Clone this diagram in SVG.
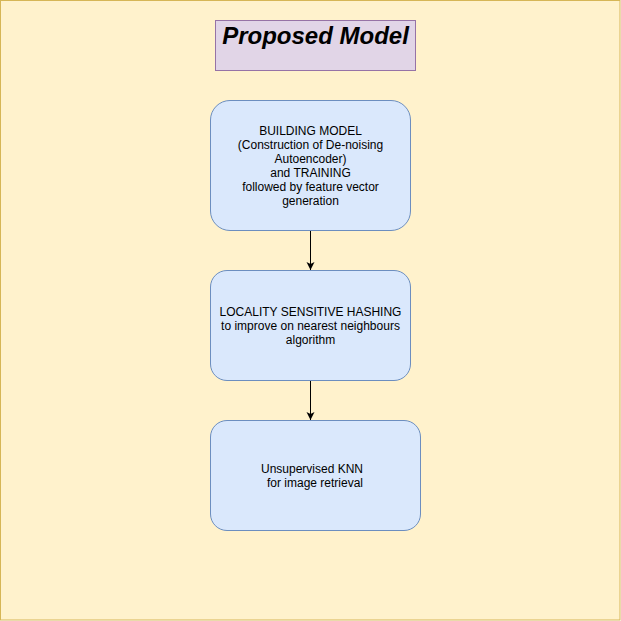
<svg xmlns="http://www.w3.org/2000/svg" width="621" height="621" viewBox="0 0 621 621">
<style>
.node{fill:#dae8fc;stroke:#6c8ebf;stroke-width:1}
.t{font-family:"Liberation Sans",Arial,sans-serif;font-size:12px;fill:#000;text-anchor:middle}
.edge{stroke:#000;stroke-width:1;fill:none}
</style>
<defs>
<marker id="arr" markerWidth="10" markerHeight="10" refX="8" refY="4" orient="auto" markerUnits="userSpaceOnUse" viewBox="0 0 10 8">
<path d="M0,0 L8,4 L0,8 L2,4 Z" fill="#000"/>
</marker>
</defs>
<rect x="0.5" y="0.5" width="619.5" height="619.5" fill="#fff2cc" stroke="#d6b656"/>
<g id="title">
<rect x="215.5" y="20.5" width="200" height="50" fill="#e1d5e7" stroke="#9673a6"/>
<text x="315.5" y="44" font-family="'Liberation Sans',Arial,sans-serif" font-size="24" font-weight="bold" font-style="italic" text-anchor="middle">Proposed Model</text>
</g>
<g id="connectors">
<path class="edge" d="M310.5,230.5 L310.5,270" marker-end="url(#arr)"/>
<path class="edge" d="M310.5,380.5 L310.5,420" marker-end="url(#arr)"/>
</g>
<g id="node1">
<rect class="node" x="210.5" y="100.5" width="200" height="130" rx="19.5" ry="19.5"/>
<text class="t" x="310.5" y="135">BUILDING MODEL</text>
<text class="t" x="310.5" y="149">(Construction of De-noising</text>
<text class="t" x="310.5" y="163">Autoencoder)</text>
<text class="t" x="310.5" y="177">and TRAINING</text>
<text class="t" x="310.5" y="191">followed by feature vector</text>
<text class="t" x="310.5" y="205">generation</text>
</g>
<g id="node2">
<rect class="node" x="210.5" y="270.5" width="200" height="110" rx="16.5" ry="16.5"/>
<text class="t" x="310.5" y="316">LOCALITY SENSITIVE HASHING</text>
<text class="t" x="310.5" y="330">to improve on nearest neighbours</text>
<text class="t" x="310.5" y="344">algorithm</text>
</g>
<g id="node3">
<rect class="node" x="210.5" y="420.5" width="210" height="110" rx="16.5" ry="16.5"/>
<text class="t" x="312" y="473">Unsupervised KNN</text>
<text class="t" x="315" y="487">for image retrieval</text>
</g>
</svg>
